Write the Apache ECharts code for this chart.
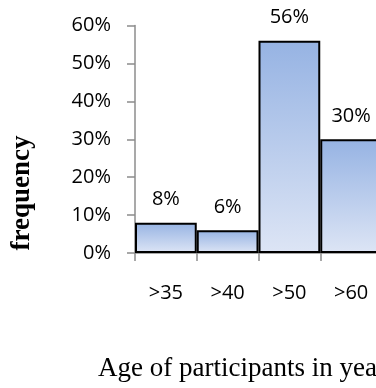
<!DOCTYPE html>
<html>
<head>
<meta charset="utf-8">
<script src="https://cdn.jsdelivr.net/npm/echarts@6/dist/echarts.min.js"></script>
<style>
  html, body { margin: 0; padding: 0; background: #fff; overflow: hidden; width: 376px; height: 388px; }
  #chart { width: 382px; height: 388px; }
</style>
</head>
<body>
<div id="chart"></div>
<script>
// Age groups and the share of participants in each
const categories = ['>35', '>40', '>50', '>60'];
const frequency = [8, 6, 56, 30];
const yTicks = [0, 10, 20, 30, 40, 50, 60];

const labelFont = '"Open Sans", sans-serif';
const serif = '"Liberation Serif", "Times New Roman", serif';

const chart = echarts.init(document.getElementById('chart'));
chart.setOption({
  animation: false,
  backgroundColor: '#fff',
  grid: { left: 135, top: 25.5, bottom: 135, right: 0, containLabel: false },
  xAxis: {
    type: 'category',
    data: categories,
    axisLine: { lineStyle: { color: '#8c8c8c', width: 1.5 } },
    axisTick: { show: true, length: 8, lineStyle: { color: '#8c8c8c', width: 1.5 } },
    axisLabel: { margin: 30, fontFamily: labelFont, fontSize: 20, color: '#000' }
  },
  yAxis: {
    type: 'value',
    min: yTicks[0],
    max: yTicks[yTicks.length - 1],
    interval: 10,
    splitLine: { show: false },
    axisLine: { show: true, lineStyle: { color: '#8c8c8c', width: 1.5 } },
    axisTick: { show: true, length: 8, lineStyle: { color: '#8c8c8c', width: 1.5 } },
    axisLabel: {
      margin: 24, fontFamily: labelFont, fontSize: 20, color: '#000',
      formatter: v => v + '%'
    }
  },
  series: [{
    type: 'bar',
    data: frequency,
    barCategoryGap: 0,
    itemStyle: {
      borderColor: '#000',
      borderWidth: 2,
      color: new echarts.graphic.LinearGradient(0, 0, 0, 1, [
        { offset: 0, color: '#96b3e3' },
        { offset: 1, color: '#dde5f5' }
      ])
    },
    label: {
      show: true,
      position: 'top',
      distance: 13,
      fontFamily: labelFont,
      fontSize: 20,
      color: '#000',
      formatter: p => p.value + '%'
    }
  }],
  graphic: [
    {
      type: 'text',
      x: 22, y: 193,
      rotation: Math.PI / 2,
      style: {
        text: 'frequency',
        font: 'bold 27px ' + serif,
        fill: '#000',
        align: 'center',
        verticalAlign: 'middle'
      }
    },
    {
      type: 'text',
      x: 98, y: 369,
      style: {
        text: 'Age of participants in years',
        font: '27px ' + serif,
        fill: '#000',
        align: 'left',
        verticalAlign: 'middle'
      }
    }
  ]
});
</script>
</body>
</html>
